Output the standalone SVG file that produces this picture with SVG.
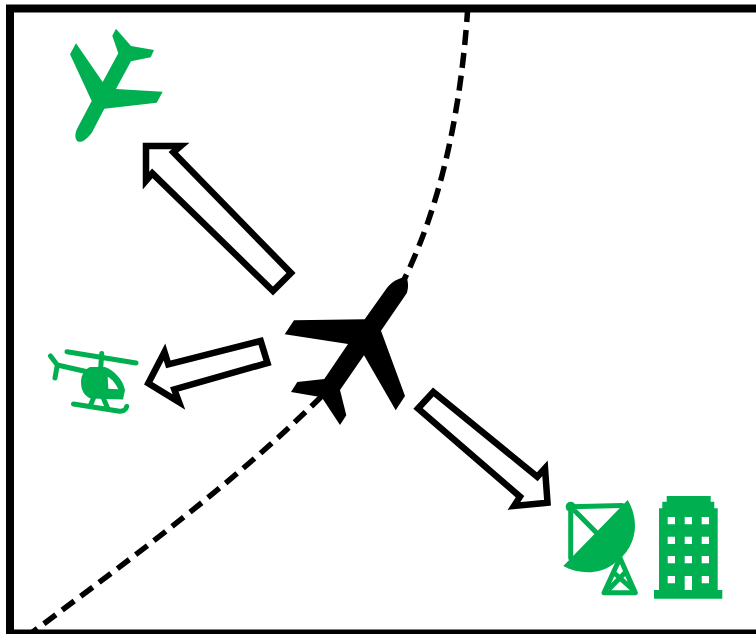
<svg xmlns="http://www.w3.org/2000/svg" width="756" height="634" viewBox="0 0 756 634">
<style>
.arrow{fill:#fff;stroke:#000;stroke-width:6.500;stroke-linejoin:miter;stroke-miterlimit:10}
.dash{fill:none;stroke:#000;stroke-width:5.500;stroke-dasharray:15 8}
.g{fill:#00b050}
.gl{fill:none;stroke:#00b050;stroke-width:5;stroke-linecap:round;stroke-linejoin:round}
.w{fill:#fff}
</style>
<rect width="756" height="634" fill="#fff"/>
<g id="connectors">
<path class="dash" d="M400,288 C442,205 461,110 468,5"/>
<path class="dash" d="M322,396 C235,482 140,552 26,637"/>
<path class="arrow" d="M146,146 L180.700,146 L173.300,152.300 L291,273 L273,291 L152.300,173.300 L146,180.700 Z"/>
<path class="arrow" d="M148.300,383.300 L164.500,352 L168.300,364.300 L260.700,341 L267.500,363 L174.300,389.300 L179,402 Z"/>
<path class="arrow" d="M547.500,502.700 L514,506 L520,496.700 L418,408.500 L433.300,392 L537.300,476.700 L545,468.300 Z"/>
</g>
<rect id="frame" x="10" y="8.500" width="760" height="625" fill="none" stroke="#000" stroke-width="8"/>
<g id="aircraft-black">
<path d="M406.500,277 C409,284 408,290 406.700,293.300 L381,330.700 L405,396 L395.700,410.300 L364,355.300 L340,390 L346.300,415.300 L340,425 L321.700,397.300 L291,392 L297.300,382 L324.300,379 L348,344 L284.700,334.300 L294,320.300 L364.700,319.300 L386,289.300 C391,282 398,278 406.500,277 Z"/>
</g>
<g id="aircraft-green">
<path class="g" d="M76,43.300 L70,54.300 L91.700,101 L78,127 C74,134 75,140 78,141.500 C82,143 87,139 91.700,133 L104.300,108.700 L156.700,102.700 L162.700,91.700 L116,89 L131,61.300 L150.700,57.300 L154,50 L131,46 L116,28.700 L112.300,35.700 L118.300,53.300 L102.700,82 Z"/>
</g>
<g id="helicopter">
<path class="gl" d="M67,351.700 L136,363 M101.700,353.500 L100.700,368 M50.500,356 L57.300,365 L55,378 M57.300,365 L87,371.700 M73.500,404 L118,411 C123,412 126,410 126.700,406.500 M93.500,398 L90,406.500 M103.300,398 L108,409"/>
<path class="g" d="M90,367 L105,367 C114,370 123,380 125,390 L123,399.500 L91,398.500 C84,396 81,390 81,381.700 C81,375 85,369 90,367 Z"/>
<path class="w" d="M107.700,376.700 C112,379 116,384 118.300,389.300 L108.300,388.700 Z"/>
</g>
<g id="radar">
<path class="gl" d="M570.700,506.700 L622,505.500 M570.700,506.700 L570.700,558 M570.700,506.700 L597,533.300 M620,558 L635.300,592.700 L604,592.700 Z M614.300,573 L631,588 M625,572.700 L610,588"/>
<circle class="g" cx="570.700" cy="506.700" r="5"/>
<path class="g" d="M627.700,500 L563.300,566 C578,574 598,575 612,565 C628,555 635,540 635,526 C635,516 632,507 627.700,500 Z"/>
</g>
<g id="building">
<path class="g" d="M654,598.700 L654,590 L659,590 L659,508.300 L662.300,508.300 L662.300,501.700 L666.700,501.700 L666.700,496 L710.700,496 L710.700,501.700 L714.300,501.700 L714.300,508.300 L717.700,508.300 L717.700,590 L722.300,590 L722.300,598.700 Z"/>
<path class="w" d="M667.700,517h7.300v7.300h-7.300zM684.700,517h7.300v7.300h-7.300zM701.700,517h7.300v7.300h-7.300zM667.700,536.700h7.300v7.300h-7.300zM684.700,536.700h7.300v7.300h-7.300zM701.700,536.700h7.300v7.300h-7.300zM667.700,556h7.300v7.300h-7.300zM684.700,556h7.300v7.300h-7.300zM701.700,556h7.300v7.300h-7.300zM667.700,576h7.300v7.300h-7.300zM684.700,576h7.300v14h-7.300zM701.700,576h7.300v7.300h-7.300z"/>
</g>
</svg>
